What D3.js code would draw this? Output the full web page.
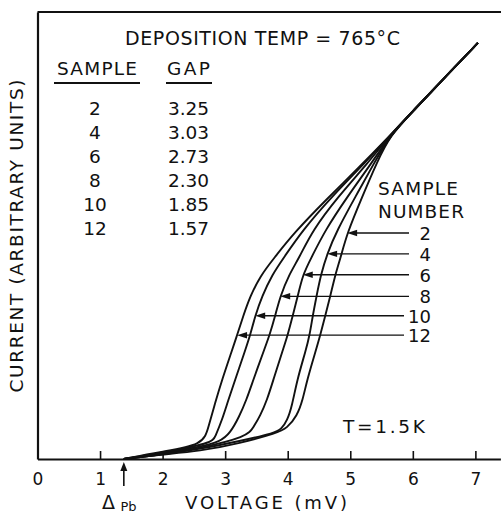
<!DOCTYPE html>
<html>
<head>
<meta charset="utf-8">
<script src="https://cdn.jsdelivr.net/npm/d3@7"></script>
<style>
body { margin: 0; background: #fff; }
text { font-family: "DejaVu Sans", sans-serif; fill: #111; }
</style>
</head>
<body>
<svg id="chart"></svg>
<script>
// values: voltage in mV, current in arbitrary units
var voltTicks = [0, 1, 2, 3, 4, 5, 6, 7];
var sampleNos = ["2", "4", "6", "8", "10", "12"];
var gapValues = ["3.25", "3.03", "2.73", "2.30", "1.85", "1.57"];
var deltaPb = 1.38;

// common ohmic line that all curves join at high voltage
var ohmicTail = [[5.64,4.5],[6.0,4.83],[6.5,5.29],[7.04,5.78]];

var sample2 = [[1.38,0],[1.96,0.06],[2.60,0.11],[3.24,0.22],[3.83,0.36],[3.99,0.43],[4.15,0.60],[4.24,0.82],[4.31,1.10],[4.45,1.51],[4.52,1.72],[4.60,1.99],[4.68,2.26],[4.76,2.56],[4.84,2.78],[4.95,3.14],[5.19,3.64],[5.42,4.11]];
var sample4 = [[1.38,0],[1.96,0.06],[2.60,0.14],[3.24,0.25],[3.80,0.36],[3.90,0.42],[3.99,0.53],[4.07,0.74],[4.15,1.10],[4.29,1.51],[4.35,1.72],[4.40,1.99],[4.46,2.26],[4.53,2.56],[4.63,2.85],[4.79,3.18],[5.08,3.64],[5.38,4.11]];
var sample6 = [[1.38,0],[1.96,0.06],[2.60,0.15],[3.35,0.31],[3.45,0.44],[3.56,0.60],[3.67,0.82],[3.77,1.10],[3.92,1.51],[4.00,1.72],[4.08,1.99],[4.16,2.26],[4.24,2.56],[4.38,2.80],[4.60,3.18],[4.95,3.64],[5.34,4.11]];
var sample8 = [[1.38,0],[1.96,0.07],[2.60,0.17],[2.92,0.24],[3.08,0.36],[3.22,0.58],[3.34,0.82],[3.45,1.10],[3.62,1.51],[3.71,1.72],[3.80,1.99],[3.88,2.26],[4.02,2.56],[4.18,2.79],[4.40,3.18],[4.80,3.64],[5.28,4.11]];
var sample10 = [[1.38,0],[1.96,0.08],[2.79,0.22],[2.84,0.31],[2.95,0.54],[3.05,0.82],[3.16,1.10],[3.32,1.51],[3.40,1.72],[3.48,1.99],[3.59,2.26],[3.75,2.56],[3.94,2.80],[4.24,3.18],[4.70,3.64],[5.23,4.11]];
var sample12 = [[1.38,0],[1.96,0.10],[2.65,0.19],[2.73,0.44],[2.84,0.78],[2.95,1.10],[3.11,1.51],[3.19,1.72],[3.29,1.99],[3.40,2.26],[3.56,2.54],[3.77,2.78],[4.12,3.16],[4.60,3.59],[5.16,4.07]];

// where each "sample number" arrow touches its curve
var arrowV = [4.95, 4.63, 4.24, 3.88, 3.48, 3.19];
var arrowI = [3.14, 2.85, 2.56, 2.26, 1.99, 1.72];

var width = 501, height = 516;
var svg = d3.select("#chart")
    .attr("width", width)
    .attr("height", height);

var x = d3.scaleLinear().domain([0, 7.4]).range([37.5, 500.4]);
var y = d3.scaleLinear().domain([0, 6.21]).range([459, 12]);

// x axis: ticks point up into the plot
var xAxis = d3.axisBottom(x)
    .tickValues(voltTicks)
    .tickSizeInner(-8)
    .tickSizeOuter(0)
    .tickPadding(14)
    .tickFormat(d3.format("d"));
var gx = svg.append("g")
    .attr("transform", "translate(0," + y(0) + ")")
    .call(xAxis);
gx.select(".domain").attr("stroke", "#111").attr("stroke-width", 2);
gx.selectAll(".tick line").attr("stroke", "#111").attr("stroke-width", 1.6);
gx.selectAll(".tick text").style("font-size", "17px").attr("fill", "#111");

// left axis is just the frame line
var gy = svg.append("g")
    .attr("transform", "translate(" + x(0) + ",0)")
    .call(d3.axisLeft(y).tickValues([]).tickSizeOuter(0));
gy.select(".domain").attr("stroke", "#111").attr("stroke-width", 2.2);

// top frame line
svg.append("line")
    .attr("x1", x(0)).attr("x2", width)
    .attr("y1", y.range()[1]).attr("y2", y.range()[1])
    .attr("stroke", "#111").attr("stroke-width", 2);

// the I-V curves
var line = d3.line()
    .x(function(d) { return x(d[0]); })
    .y(function(d) { return y(d[1]); })
    .curve(d3.curveBasis);

var curves = [sample2, sample4, sample6, sample8, sample10, sample12];
svg.selectAll(".iv").data(curves)
    .enter().append("path")
    .attr("class", "iv")
    .attr("d", function(d) { return line(d.concat(ohmicTail)); })
    .attr("fill", "none")
    .attr("stroke", "#111")
    .attr("stroke-width", 1.9);

// arrows with sample numbers
var labelEnd = 431;
sampleNos.forEach(function(s, i) {
    var tx = x(arrowV[i]), ty = y(arrowI[i]);
    var lineEnd = s.length > 1 ? 404 : 409;
    svg.append("line")
        .attr("x1", tx + 6).attr("x2", lineEnd)
        .attr("y1", ty).attr("y2", ty)
        .attr("stroke", "#111").attr("stroke-width", 1.3);
    svg.append("path")
        .attr("d", "M" + tx + "," + ty + "L" + (tx + 10) + "," + (ty - 3.2) + "L" + (tx + 10) + "," + (ty + 3.2) + "Z")
        .attr("fill", "#111");
    svg.append("text")
        .attr("x", labelEnd).attr("y", ty + 7)
        .attr("text-anchor", "end")
        .style("font-size", "18px")
        .text(s);
});

function label(txt, px, py, size, len, anchor) {
    var t = svg.append("text")
        .attr("x", px).attr("y", py)
        .attr("text-anchor", anchor || "middle")
        .style("font-size", size + "px")
        .text(txt);
    if (len) t.attr("textLength", len).attr("lengthAdjust", "spacing");
    return t;
}

// table top-left
label("DEPOSITION TEMP = 765\u00b0C", 262.5, 45, 19, 275);
label("SAMPLE", 97, 75, 18.5, 80);
label("GAP", 188.5, 75, 18.5, 43);
svg.append("line").attr("x1", 54).attr("x2", 140).attr("y1", 83).attr("y2", 83)
    .attr("stroke", "#111").attr("stroke-width", 2);
svg.append("line").attr("x1", 166).attr("x2", 212).attr("y1", 83).attr("y2", 83)
    .attr("stroke", "#111").attr("stroke-width", 2);
sampleNos.forEach(function(s, i) {
    label(s, 95, 115 + i * 24, 18.5);
    label(gapValues[i], 188.5, 115 + i * 24, 18.5);
});

// right legend heading
label("SAMPLE", 378, 195, 18.5, 80, "start");
label("NUMBER", 378, 218, 18.5, 86, "start");

label("T=1.5K", 343, 433, 18.5, 82, "start");

// Delta Pb marker
var px = x(deltaPb);
svg.append("line").attr("x1", px).attr("x2", px).attr("y1", 468).attr("y2", 486)
    .attr("stroke", "#111").attr("stroke-width", 1.6);
svg.append("path")
    .attr("d", "M" + px + ",462L" + (px - 3.5) + ",471L" + (px + 3.5) + ",471Z")
    .attr("fill", "#111");
label("\u0394", 108.5, 509, 19);
label("Pb", 128.5, 511, 13);

// axis titles
label("VOLTAGE (mV)", 266, 509, 18, 162);
label("CURRENT (ARBITRARY UNITS)", 0, 0, 18.5, 313)
    .attr("transform", "translate(23,236) rotate(-90)");
</script>
</body>
</html>
